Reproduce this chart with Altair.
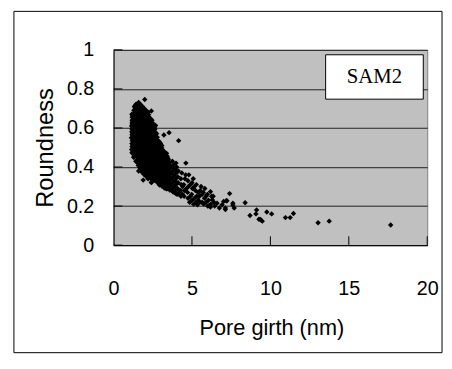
import altair as alt
import pandas as pd

# Values (Pore girth in nm, Roundness)
core_left = [
    (1.15,0.49),(1.17,0.52),(1.14,0.55),(1.16,0.58),(1.15,0.61),(1.18,0.64),(1.17,0.67),(1.20,0.47),(1.19,0.55),(1.20,0.62),
    (1.28,0.45),(1.30,0.48),(1.31,0.51),(1.29,0.54),(1.32,0.57),(1.30,0.60),(1.28,0.63),(1.31,0.66),(1.30,0.69),(1.33,0.71),(1.27,0.50),(1.27,0.58),
    (1.42,0.43),(1.40,0.46),(1.43,0.49),(1.41,0.52),(1.44,0.55),(1.42,0.58),(1.40,0.61),(1.43,0.64),(1.41,0.67),(1.44,0.70),(1.42,0.72),
    (1.55,0.42),(1.53,0.45),(1.56,0.48),(1.54,0.51),(1.57,0.54),(1.55,0.57),(1.53,0.60),(1.56,0.63),(1.54,0.66),(1.57,0.69),(1.55,0.72),(1.60,0.73),
    (1.68,0.40),(1.66,0.43),(1.69,0.46),(1.67,0.49),(1.70,0.52),(1.68,0.55),(1.66,0.58),(1.69,0.61),(1.67,0.64),(1.70,0.67),(1.68,0.70),(1.72,0.72),
]
core_mid = [
    (1.80,0.38),(1.78,0.41),(1.81,0.44),(1.79,0.47),(1.82,0.50),(1.80,0.53),(1.78,0.56),(1.81,0.59),(1.79,0.62),(1.82,0.65),(1.80,0.68),(1.84,0.71),
    (1.92,0.37),(1.90,0.40),(1.93,0.43),(1.91,0.46),(1.94,0.49),(1.92,0.52),(1.90,0.55),(1.93,0.58),(1.91,0.61),(1.94,0.64),(1.92,0.67),(1.95,0.70),(1.99,0.746),
    (2.05,0.36),(2.03,0.39),(2.06,0.42),(2.04,0.45),(2.07,0.48),(2.05,0.51),(2.03,0.54),(2.06,0.57),(2.04,0.60),(2.07,0.63),(2.05,0.66),(2.08,0.69),
    (2.18,0.36),(2.16,0.38),(2.19,0.41),(2.17,0.44),(2.20,0.47),(2.18,0.50),(2.16,0.53),(2.19,0.56),(2.17,0.59),(2.20,0.62),(2.18,0.65),(2.21,0.68),
    (2.32,0.35),(2.30,0.38),(2.33,0.41),(2.31,0.44),(2.34,0.47),(2.32,0.50),(2.30,0.53),(2.33,0.56),(2.31,0.59),(2.34,0.62),(2.32,0.65),(2.41,0.687),
    (2.45,0.34),(2.43,0.37),(2.46,0.40),(2.44,0.43),(2.47,0.46),(2.45,0.49),(2.43,0.52),(2.46,0.55),(2.44,0.58),(2.47,0.61),(2.45,0.64),
    (2.60,0.34),(2.58,0.37),(2.61,0.40),(2.59,0.43),(2.62,0.46),(2.60,0.49),(2.58,0.52),(2.61,0.55),(2.59,0.58),(2.62,0.60),(2.68,0.613),
]
core_fill = [
    (1.22,0.486),(1.23,0.514),(1.21,0.546),(1.22,0.574),(1.24,0.606),(1.22,0.634),(1.21,0.664),
    (1.36,0.464),(1.35,0.497),(1.37,0.524),(1.36,0.556),(1.34,0.584),(1.37,0.616),(1.35,0.644),(1.36,0.676),(1.37,0.703),
    (1.49,0.436),(1.48,0.464),(1.50,0.497),(1.49,0.524),(1.47,0.556),(1.50,0.584),(1.48,0.616),(1.49,0.644),(1.51,0.676),(1.48,0.706),
    (1.62,0.414),(1.61,0.446),(1.63,0.474),(1.62,0.506),(1.60,0.534),(1.63,0.566),(1.61,0.594),(1.62,0.626),(1.64,0.654),(1.61,0.686),(1.63,0.714),
    (1.74,0.396),(1.73,0.424),(1.75,0.456),(1.74,0.484),(1.72,0.516),(1.75,0.544),(1.73,0.576),(1.74,0.604),(1.76,0.636),(1.73,0.664),(1.75,0.696),
    (1.86,0.384),(1.85,0.416),(1.87,0.444),(1.86,0.476),(1.84,0.504),(1.87,0.536),(1.85,0.564),(1.86,0.596),(1.88,0.624),(1.85,0.656),(1.87,0.684),
    (1.98,0.376),(1.97,0.404),(1.99,0.436),(1.98,0.464),(1.96,0.496),(1.99,0.524),(1.97,0.556),(1.98,0.584),(2.00,0.616),(1.97,0.644),(1.99,0.676),
    (2.11,0.364),(2.10,0.396),(2.12,0.424),(2.11,0.456),(2.09,0.484),(2.12,0.516),(2.10,0.544),(2.11,0.576),(2.13,0.604),(2.10,0.636),(2.12,0.664),
    (2.25,0.356),(2.24,0.384),(2.26,0.416),(2.25,0.444),(2.23,0.476),(2.26,0.504),(2.24,0.536),(2.25,0.564),(2.27,0.596),(2.24,0.624),(2.26,0.656),
    (2.38,0.346),(2.37,0.374),(2.39,0.406),(2.38,0.434),(2.36,0.466),(2.39,0.494),(2.37,0.526),(2.38,0.554),(2.40,0.586),(2.37,0.614),(2.39,0.644),
    (2.52,0.344),(2.51,0.376),(2.53,0.404),(2.52,0.436),(2.50,0.464),(2.53,0.496),(2.51,0.524),(2.52,0.556),(2.54,0.584),(2.51,0.614),
    (2.67,0.336),(2.66,0.364),(2.68,0.396),(2.67,0.424),(2.65,0.456),(2.68,0.484),(2.66,0.516),(2.67,0.544),(2.69,0.576),
    (2.82,0.326),(2.81,0.354),(2.83,0.386),(2.82,0.414),(2.80,0.446),(2.83,0.474),(2.81,0.506),(2.84,0.534),
    (2.97,0.316),(2.96,0.344),(2.98,0.376),(2.97,0.404),(2.95,0.436),(2.98,0.464),(2.96,0.496),(2.99,0.522),
    (3.12,0.306),(3.11,0.334),(3.13,0.366),(3.12,0.394),(3.10,0.426),(3.13,0.454),(3.11,0.486),
    (3.28,0.296),(3.27,0.324),(3.29,0.356),(3.28,0.384),(3.26,0.416),(3.29,0.444),
    (3.43,0.294),(3.42,0.326),(3.44,0.354),(3.43,0.386),(3.41,0.414),(3.44,0.446),
    (3.60,0.286),(3.59,0.314),(3.61,0.346),(3.60,0.374),(3.62,0.406),
]
core_fill2 = [
    (1.18,0.475),(1.18,0.505),(1.19,0.535),(1.18,0.565),(1.17,0.595),(1.18,0.625),(1.19,0.655),
    (1.32,0.452),(1.33,0.482),(1.32,0.512),(1.31,0.542),(1.33,0.572),(1.32,0.602),(1.34,0.632),(1.32,0.662),(1.33,0.692),
    (1.46,0.428),(1.45,0.458),(1.47,0.488),(1.46,0.518),(1.45,0.548),(1.47,0.578),(1.46,0.608),(1.45,0.638),(1.47,0.668),(1.46,0.698),(1.47,0.722),
    (1.58,0.408),(1.59,0.438),(1.58,0.468),(1.57,0.498),(1.59,0.528),(1.58,0.558),(1.60,0.588),(1.58,0.618),(1.59,0.648),(1.58,0.678),(1.60,0.708),
    (1.71,0.392),(1.72,0.422),(1.71,0.452),(1.70,0.482),(1.72,0.512),(1.71,0.542),(1.73,0.572),(1.71,0.602),(1.72,0.632),(1.71,0.662),(1.72,0.692),(1.74,0.715),
    (1.83,0.372),(1.84,0.402),(1.83,0.432),(1.82,0.462),(1.84,0.492),(1.83,0.522),(1.85,0.552),(1.83,0.582),(1.84,0.612),(1.83,0.642),(1.84,0.672),(1.86,0.702),
    (1.95,0.362),(1.96,0.392),(1.95,0.422),(1.94,0.452),(1.96,0.482),(1.95,0.512),(1.97,0.542),(1.95,0.572),(1.96,0.602),(1.95,0.632),(1.96,0.662),(1.97,0.692),
    (2.08,0.352),(2.09,0.382),(2.08,0.412),(2.07,0.442),(2.09,0.472),(2.08,0.502),(2.10,0.532),(2.08,0.562),(2.09,0.592),(2.08,0.622),(2.09,0.652),(2.10,0.682),
    (2.21,0.352),(2.22,0.372),(2.21,0.402),(2.20,0.432),(2.22,0.462),(2.21,0.492),(2.23,0.522),(2.21,0.552),(2.22,0.582),(2.21,0.612),(2.22,0.642),(2.23,0.668),
    (2.35,0.342),(2.36,0.362),(2.35,0.392),(2.34,0.422),(2.36,0.452),(2.35,0.482),(2.37,0.512),(2.35,0.542),(2.36,0.572),(2.35,0.602),(2.36,0.632),
    (2.49,0.338),(2.50,0.358),(2.49,0.388),(2.48,0.418),(2.50,0.448),(2.49,0.478),(2.51,0.508),(2.49,0.538),(2.50,0.568),(2.49,0.598),(2.50,0.625),
    (2.63,0.332),(2.64,0.352),(2.63,0.382),(2.62,0.412),(2.64,0.442),(2.63,0.472),(2.65,0.502),(2.63,0.532),(2.64,0.562),(2.63,0.592),
    (2.78,0.322),(2.79,0.342),(2.78,0.372),(2.77,0.402),(2.79,0.432),(2.78,0.462),(2.80,0.492),(2.78,0.522),(2.79,0.552),
    (2.93,0.312),(2.94,0.332),(2.93,0.362),(2.92,0.392),(2.94,0.422),(2.93,0.452),(2.95,0.482),(2.93,0.512),
    (3.08,0.302),(3.09,0.322),(3.08,0.352),(3.07,0.382),(3.09,0.412),(3.08,0.442),(3.10,0.472),(3.08,0.498),
    (3.24,0.292),(3.25,0.312),(3.24,0.342),(3.23,0.372),(3.25,0.402),(3.24,0.432),(3.26,0.462),
    (3.40,0.288),(3.41,0.308),(3.40,0.338),(3.39,0.368),(3.41,0.398),(3.40,0.428),(3.42,0.455),
    (3.58,0.282),(3.59,0.302),(3.58,0.332),(3.57,0.362),(3.59,0.392),(3.58,0.422),
    (3.80,0.272),(3.81,0.292),(3.80,0.322),(3.79,0.352),(3.81,0.382),(3.82,0.410),
    (4.00,0.262),(4.01,0.282),(4.00,0.312),(3.99,0.342),(4.01,0.372),(4.02,0.400),
]
core_right = [
    (2.75,0.33),(2.73,0.36),(2.76,0.39),(2.74,0.42),(2.77,0.45),(2.75,0.48),(2.73,0.51),(2.76,0.54),(2.74,0.57),
    (2.90,0.32),(2.88,0.35),(2.91,0.38),(2.89,0.41),(2.92,0.44),(2.90,0.47),(2.88,0.50),(2.91,0.53),
    (3.05,0.31),(3.03,0.34),(3.06,0.37),(3.04,0.40),(3.07,0.43),(3.05,0.46),(3.03,0.49),(3.08,0.51),
    (3.20,0.30),(3.18,0.33),(3.21,0.36),(3.19,0.39),(3.22,0.42),(3.20,0.45),(3.23,0.48),(3.21,0.564),
    (3.35,0.29),(3.33,0.32),(3.36,0.35),(3.34,0.38),(3.37,0.41),(3.35,0.44),(3.38,0.47),
    (3.50,0.29),(3.48,0.32),(3.51,0.35),(3.49,0.38),(3.52,0.41),(3.50,0.44),(3.54,0.576),
    (3.70,0.28),(3.68,0.31),(3.72,0.34),(3.69,0.37),(3.73,0.40),(3.75,0.43),
    (3.90,0.27),(3.88,0.30),(3.92,0.33),(3.89,0.36),(3.93,0.39),(3.98,0.42),
    (4.10,0.26),(4.08,0.29),(4.12,0.32),(4.09,0.35),(4.13,0.38),(4.15,0.535),
]
spread = [
    (4.30,0.25),(4.28,0.28),(4.32,0.31),(4.29,0.34),(4.35,0.37),(4.61,0.42),
    (4.50,0.25),(4.52,0.28),(4.48,0.31),(4.55,0.34),(4.60,0.36),
    (4.75,0.24),(4.72,0.27),(4.78,0.30),(4.74,0.33),(4.80,0.36),
    (5.00,0.23),(4.98,0.26),(5.03,0.29),(5.00,0.32),(5.08,0.34),
    (5.25,0.22),(5.30,0.25),(5.22,0.28),(5.28,0.31),(5.35,0.207),
    (5.50,0.22),(5.48,0.25),(5.53,0.28),(5.58,0.30),
    (5.75,0.21),(5.80,0.24),(5.72,0.27),(5.82,0.29),
    (6.00,0.20),(6.05,0.23),(5.98,0.26),(6.08,0.202),(6.18,0.274),(6.18,0.195),(6.29,0.232),
    (6.40,0.22),(6.35,0.25),(6.45,0.20),
    (4.20,0.27),(4.40,0.30),(4.40,0.26),(4.65,0.29),(4.90,0.25),(4.90,0.31),(5.15,0.24),(5.15,0.30),
    (5.40,0.23),(5.40,0.27),(5.65,0.22),(5.65,0.26),(5.90,0.22),(5.90,0.25),(6.20,0.21),(6.25,0.25),
    (4.85,0.22),(5.10,0.21),
]
low_outliers = [(1.89,0.333),(2.41,0.32),(2.45,0.325),(2.93,0.308),(1.60,0.38),(2.20,0.34)]
tail = [
    (6.60,0.215),(6.75,0.19),(6.92,0.207),(7.02,0.224),(7.13,0.182),(7.19,0.227),(7.23,0.227),(7.13,0.19),
    (7.40,0.264),(7.61,0.215),(7.61,0.205),(7.69,0.19),(8.39,0.217),(8.70,0.152),(9.08,0.16),(9.12,0.18),
    (9.27,0.133),(9.37,0.131),(9.48,0.123),(9.77,0.17),(10.08,0.16),(10.96,0.141),(11.26,0.141),(11.47,0.162),
    (13.04,0.115),(13.75,0.123),(17.67,0.103),
]

x_ticks = [0, 5, 10, 15, 20]
y_ticks = [0, 0.2, 0.4, 0.6, 0.8, 1.0]
series_name = "SAM2"
x_title = "Pore girth (nm)"
y_title = "Roundness"

pts = core_left + core_mid + core_fill + core_fill2 + core_right + spread + low_outliers + tail
df = pd.DataFrame(pts, columns=["girth", "roundness"])

W, H = 318, 198
FONT = "Liberation Sans"

xscale = alt.Scale(domain=[0, 20], nice=False, zero=False)
yscale = alt.Scale(domain=[0, 1], nice=False, zero=False)

ax_x = alt.Axis(
    values=x_ticks, title=x_title, grid=False, ticks=False, tickSize=0,
    labelFont=FONT, labelFontSize=20, labelColor="black", labelPadding=34,
    labelFlush=False, labelOverlap=False,
    domainColor="black", domainWidth=1,
    titleFont=FONT, titleFontSize=22, titleFontWeight="normal", titleColor="black",
    titleX=160, titleY=84, titleAlign="center", titleBaseline="middle",
)
ax_y = alt.Axis(
    values=y_ticks, title=y_title, grid=True, gridColor="#202020", gridWidth=1,
    gridOpacity=1, ticks=False, tickSize=0, format="~g",
    labelFont=FONT, labelFontSize=20, labelColor="black", labelPadding=20,
    labelFlush=False, labelOverlap=False,
    domainColor="black", domainWidth=1,
    titleFont=FONT, titleFontSize=24, titleFontWeight="normal", titleColor="black",
    titleX=-69, titleY=99, titleAngle=270, titleAlign="center", titleBaseline="middle",
)

points = alt.Chart(df).mark_point(
    shape="diamond", filled=True, size=30, color="black", opacity=1, strokeWidth=0
).encode(
    x=alt.X("girth:Q", scale=xscale, axis=ax_x),
    y=alt.Y("roundness:Q", scale=yscale, axis=ax_y),
)

# inward tick marks
xt = alt.Chart(pd.DataFrame({"girth": x_ticks[1:]})).mark_rule(color="black", strokeWidth=1).encode(
    x=alt.X("girth:Q", scale=xscale, axis=ax_x), y=alt.value(H), y2=alt.value(H - 9)
)
yt = alt.Chart(pd.DataFrame({"roundness": y_ticks})).mark_rule(color="black", strokeWidth=1).encode(
    y=alt.Y("roundness:Q", scale=yscale, axis=ax_y), x=alt.value(0), x2=alt.value(9)
)

one = pd.DataFrame({"label": [series_name]})
legend_box = alt.Chart(one).mark_rect(fill="white", stroke="black", strokeWidth=1).encode(
    x=alt.value(215), x2=alt.value(314), y=alt.value(5), y2=alt.value(50)
)
legend_text = alt.Chart(one).mark_text(
    font="Liberation Serif", fontSize=21, color="black", align="center", baseline="middle"
).encode(text="label:N", x=alt.value(264.5), y=alt.value(28))

frame = alt.Chart(pd.DataFrame({"a": [0]})).mark_rect(
    fill="transparent", stroke="black", strokeWidth=1
).encode(x=alt.value(-101), x2=alt.value(333), y=alt.value(-39), y2=alt.value(307))

chart = alt.layer(points, xt, yt, legend_box, legend_text, frame).properties(
    width=W, height=H,
    autosize=alt.AutoSizeParams(type="none"),
    padding={"left": 107, "top": 40, "right": 17, "bottom": 113},
    background="white",
).configure_view(
    fill="#c0c0c0", stroke="#808080", strokeWidth=1
)

chart.save("out.html", embed_options={"renderer": "svg", "actions": False})
